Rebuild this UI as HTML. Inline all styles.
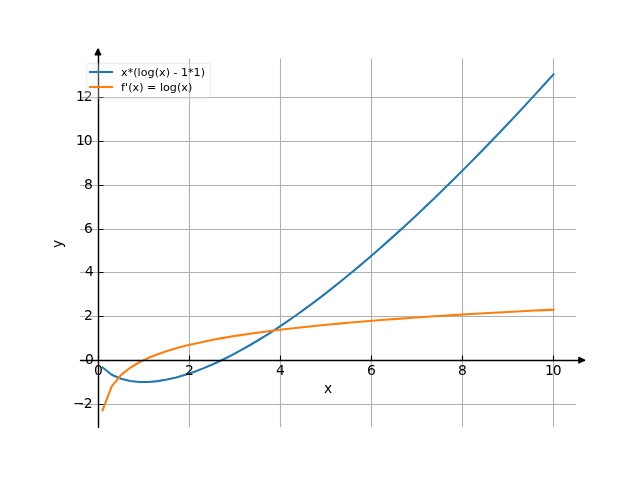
<!DOCTYPE html>
<html lang="en">
<head>
<meta charset="utf-8">
<title>Plot</title>
<style>
html,body{margin:0;padding:0;background:#fff;overflow:hidden}
svg{display:block}
text{font-family:"DejaVu Sans","Liberation Sans",sans-serif;fill:#000}
.lg{font-size:11.111px}
.tk{font-size:13.889px}
</style>
</head>
<body>
<svg width="640" height="480" viewBox="0 0 640 480">
<defs><clipPath id="ax"><rect x="80" y="57.6" width="496" height="369.6"/></clipPath></defs>
<rect width="640" height="480" fill="#ffffff"/>
<path clip-path="url(#ax)" d="M98.5 58.5V427.5M189.5 58.5V427.5M280.5 58.5V427.5M371.5 58.5V427.5M462.5 58.5V427.5M553.5 58.5V427.5M80 404.5H576.5M80 360.5H576.5M80 316.5H576.5M80 272.5H576.5M80 229.5H576.5M80 185.5H576.5M80 141.5H576.5M80 97.5H576.5" fill="none" stroke="#b0b0b0" stroke-width="1.111"/>
<polyline clip-path="url(#ax)" points="102.55,367.45 111.75,374.74 120.95,378.80 130.15,381.04 139.35,381.99 148.56,381.96 157.76,381.11 166.96,379.58 176.16,377.45 185.37,374.80 194.57,371.69 203.77,368.15 212.97,364.23 222.17,359.95 231.38,355.34 240.58,350.43 249.78,345.23 258.98,339.76 268.19,334.04 277.39,328.08 286.59,321.89 295.79,315.49 304.99,308.88 314.20,302.07 323.40,295.08 332.60,287.90 341.80,280.55 351.01,273.03 360.21,265.35 369.41,257.52 378.61,249.53 387.81,241.40 397.02,233.13 406.22,224.73 415.42,216.19 424.62,207.52 433.83,198.72 443.03,189.81 452.23,180.78 461.43,171.63 470.63,162.37 479.84,153.00 489.04,143.53 498.24,133.94 507.44,124.26 516.65,114.48 525.85,104.60 535.05,94.63 544.25,84.56 553.45,74.40" fill="none" stroke="#1f77b4" stroke-width="2.083" stroke-linecap="square" stroke-linejoin="round"/>
<polyline clip-path="url(#ax)" points="102.55,410.40 111.75,386.33 120.95,375.13 130.15,367.75 139.35,362.24 148.56,357.83 157.76,354.17 166.96,351.03 176.16,348.29 185.37,345.85 194.57,343.65 203.77,341.66 212.97,339.83 222.17,338.14 231.38,336.57 240.58,335.11 249.78,333.74 258.98,332.45 268.19,331.23 277.39,330.07 286.59,328.98 295.79,327.93 304.99,326.93 314.20,325.98 323.40,325.07 332.60,324.19 341.80,323.34 351.01,322.53 360.21,321.75 369.41,320.99 378.61,320.26 387.81,319.55 397.02,318.87 406.22,318.20 415.42,317.56 424.62,316.93 433.83,316.32 443.03,315.73 452.23,315.15 461.43,314.59 470.63,314.04 479.84,313.50 489.04,312.98 498.24,312.47 507.44,311.97 516.65,311.49 525.85,311.01 535.05,310.54 544.25,310.09 553.45,309.64" fill="none" stroke="#ff7f0e" stroke-width="2.083" stroke-linecap="square" stroke-linejoin="round"/>
<path d="M98.5 360.5V355.50M189.5 360.5V355.50M280.5 360.5V355.50M371.5 360.5V355.50M462.5 360.5V355.50M553.5 360.5V355.50M98.5 404.5H103.50M98.5 360.5H103.50M98.5 316.5H103.50M98.5 272.5H103.50M98.5 229.5H103.50M98.5 185.5H103.50M98.5 141.5H103.50M98.5 97.5H103.50" fill="none" stroke="#000000" stroke-width="1.111"/>
<text class="tk" x="94.08" y="374.85">0</text>
<text class="tk" x="184.92" y="374.60">2</text>
<text class="tk" x="276.02" y="374.60">4</text>
<text class="tk" x="367.11" y="374.60">6</text>
<text class="tk" x="457.95" y="374.60">8</text>
<text class="tk" x="545.00 552.81" y="374.60">10</text>
<text class="tk" x="72.91 83.79" y="407.60">−2</text>
<text class="tk" x="85.05" y="363.51">0</text>
<text class="tk" x="84.05" y="319.67">2</text>
<text class="tk" x="85.05" y="275.58">4</text>
<text class="tk" x="84.05" y="232.74">6</text>
<text class="tk" x="84.05" y="188.65">8</text>
<text class="tk" x="75.97 83.79" y="144.56">10</text>
<text class="tk" x="75.97 83.79" y="100.72">12</text>
<text class="tk" x="323.89" y="392.54">x</text>
<text class="tk" transform="translate(61.82 243.90) rotate(-90)" x="-4.11" y="0.00">y</text>
<path d="M80.5 360.5H584.5" fill="none" stroke="#000000" stroke-width="1.389" stroke-linecap="round"/>
<path d="M578.892 357.372L584.447 360.15L578.892 362.927Z" fill="#000000" stroke="#000000" stroke-width="1.389" stroke-linejoin="round"/>
<path d="M98.5 427.5V49.5" fill="none" stroke="#000000" stroke-width="1.389" stroke-linecap="round"/>
<path d="M95.158 54.708L97.936 49.153L100.713 54.708Z" fill="#000000" stroke="#000000" stroke-width="1.389" stroke-linejoin="round"/>
<g class="legend">
<rect x="86.5" y="63.5" width="124" height="35" rx="2.22" ry="2.22" fill="#ffffff" stroke="#cccccc" stroke-width="1.389" opacity="0.3"/>
<path d="M90 72H112" stroke="#1f77b4" stroke-width="2.083" stroke-linecap="square" fill="none"/>
<path d="M90 87H112" stroke="#ff7f0e" stroke-width="2.083" stroke-linecap="square" fill="none"/>
<text class="lg" x="120.99 127.67 133.24 137.56 140.78 147.45 154.75 159.08 165.66 169.75 173.53 177.28 181.06 187.88 193.44 200.75" y="75.54">x*(log(x) - 1*1)</text>
<text class="lg" x="121.11 125.02 128.31 132.41 139.22 143.56 147.09 156.41 159.94 162.89 169.81 177.11 181.20 188.03" y="91.35">f'(x) = log(x)</text>
</g>
</svg>
</body>
</html>
